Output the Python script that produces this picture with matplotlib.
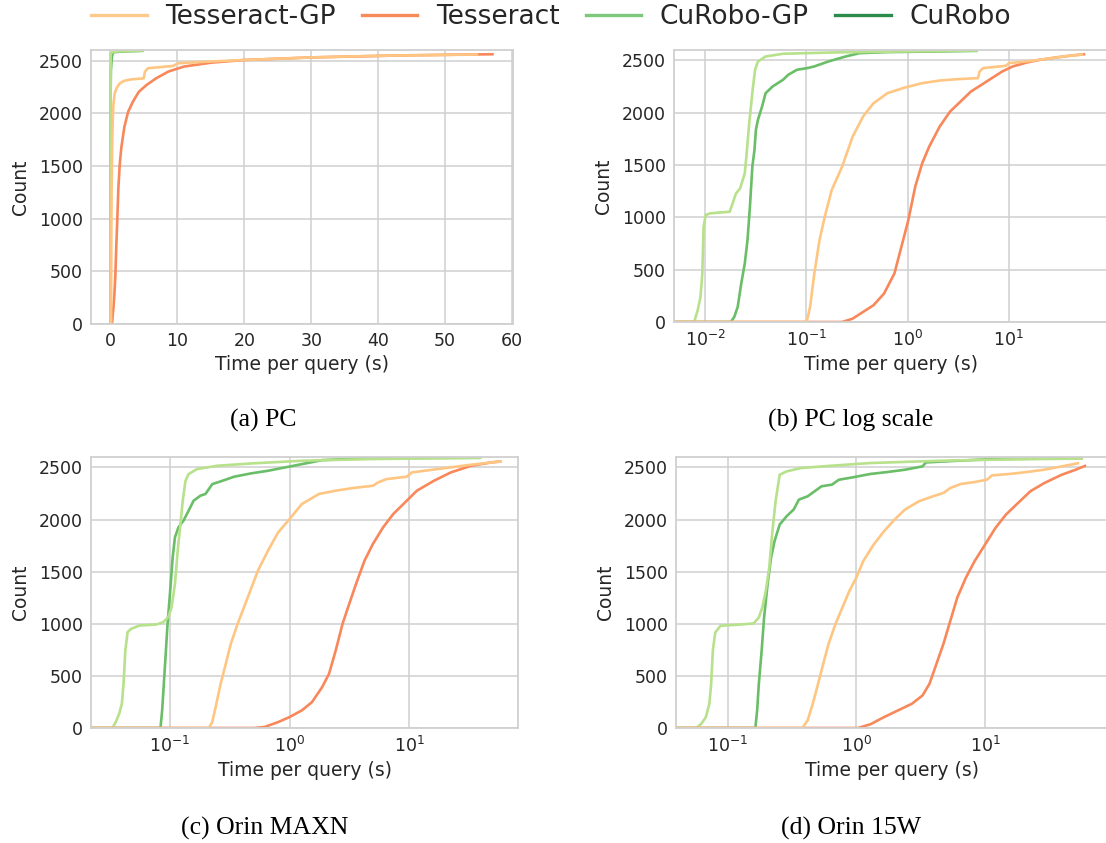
"""Cumulative query-time counts for Tesseract / CuRobo planners (4 panels)."""

import matplotlib

matplotlib.use("Agg")
import matplotlib.pyplot as plt
import numpy as np
from matplotlib.lines import Line2D

# ---- data: (log10 seconds, cumulative count) knots ----
# PC (used for both panel a and b)
pc_curobo_log10s = [-1.749, -1.714, -1.68, -1.645, -1.61, -1.583, -1.559, -1.535, -1.514, -1.5,
                    -1.48, -1.439, -1.404, -1.335, -1.232, -1.18, -1.094, -0.991, -0.922, -0.784,
                    -0.612, -0.474, -0.199, 0.317, 0.696]
pc_curobo_count = [0, 48, 144, 367, 559, 782, 1102, 1485, 1644, 1836,
                   1932, 2059, 2187, 2251, 2315, 2363, 2411, 2427, 2443, 2490,
                   2538, 2570, 2580, 2586, 2592]
pc_curobo_gp_log10s = [-2.11, -2.076, -2.048, -2.03, -2.017, -1.997, -1.955, -1.852, -1.759, -1.73,
                       -1.697, -1.656, -1.61, -1.594, -1.566, -1.532, -1.508, -1.48, -1.404, -1.232,
                       -0.716, -0.027, 0.696]
pc_curobo_gp_count = [0, 112, 240, 463, 910, 1022, 1038, 1047, 1054, 1134,
                      1229, 1277, 1421, 1580, 1900, 2219, 2411, 2490, 2538, 2564,
                      2577, 2586, 2595]
pc_tess_log10s = [-0.647, -0.543, -0.44, -0.337, -0.233, -0.13, -0.061, 0.008, 0.076, 0.145,
                  0.214, 0.318, 0.421, 0.524, 0.627, 0.731, 0.834, 0.937, 1.041, 1.178,
                  1.3, 1.48, 1.65, 1.758]
pc_tess_count = [0, 32, 96, 160, 271, 463, 718, 974, 1293, 1517,
                 1676, 1868, 2012, 2107, 2203, 2267, 2331, 2395, 2443, 2480,
                 2505, 2530, 2550, 2560]
pc_tess_gp_log10s = [-0.998, -0.964, -0.922, -0.871, -0.819, -0.75, -0.647, -0.543, -0.44, -0.337,
                     -0.199, -0.027, 0.145, 0.318, 0.49, 0.696, 0.713, 0.748, 0.972, 1.006,
                     1.178, 1.3, 1.48, 1.6, 1.74]
pc_tess_gp_count = [0, 144, 463, 782, 1006, 1261, 1485, 1772, 1964, 2091,
                    2187, 2241, 2283, 2308, 2321, 2331, 2395, 2427, 2449, 2475,
                    2491, 2505, 2530, 2545, 2557]

# Orin MAXN
maxn_curobo_log10s = [-1.079, -1.065, -1.051, -1.037, -1.02, -1.0, -0.977, -0.958, -0.929, -0.887,
                      -0.844, -0.802, -0.745, -0.703, -0.646, -0.576, -0.463, -0.321, -0.18, -0.038,
                      0.132, 0.273, 0.669, 1.603]
maxn_curobo_count = [0, 169, 425, 680, 999, 1287, 1638, 1830, 1925, 1989,
                     2085, 2181, 2229, 2245, 2340, 2366, 2411, 2443, 2468, 2500,
                     2538, 2570, 2590, 2593]
maxn_curobo_gp_log10s = [-1.481, -1.453, -1.424, -1.402, -1.388, -1.373, -1.354, -1.325, -1.255, -1.113,
                         -1.057, -1.014, -0.986, -0.958, -0.935, -0.915, -0.893, -0.87, -0.844, -0.774,
                         -0.604, -0.321, 0.103, 0.669, 1.603]
maxn_curobo_gp_count = [0, 57, 137, 233, 425, 744, 920, 951, 983, 993,
                        1015, 1063, 1159, 1383, 1702, 1925, 2181, 2372, 2436, 2484,
                        2516, 2538, 2564, 2580, 2592]
maxn_tess_log10s = [-0.293, -0.208, -0.095, 0.0, 0.103, 0.188, 0.273, 0.33, 0.386, 0.443,
                    0.499, 0.556, 0.627, 0.697, 0.782, 0.867, 0.952, 1.065, 1.207, 1.348,
                    1.518, 1.687, 1.772]
maxn_tess_count = [0, 10, 57, 105, 169, 249, 393, 520, 744, 999,
                   1191, 1383, 1606, 1766, 1925, 2053, 2149, 2277, 2372, 2452,
                   2516, 2548, 2558]
maxn_tess_gp_log10s = [-0.675, -0.646, -0.618, -0.576, -0.533, -0.491, -0.434, -0.349, -0.264, -0.18,
                       -0.095, 0.0, 0.103, 0.245, 0.386, 0.528, 0.697, 0.74, 0.81, 0.98,
                       1.023, 1.235, 1.518, 1.772]
maxn_tess_gp_count = [0, 57, 201, 425, 616, 808, 999, 1255, 1510, 1702,
                      1877, 2005, 2149, 2245, 2277, 2302, 2324, 2356, 2388, 2411,
                      2452, 2484, 2526, 2558]

# Orin 15W
w15_curobo_log10s = [-0.784, -0.77, -0.757, -0.735, -0.716, -0.689, -0.662, -0.635, -0.595, -0.541,
                     -0.486, -0.446, -0.378, -0.324, -0.27, -0.189, -0.135, -0.027, 0.108, 0.243,
                     0.378, 0.514, 0.541, 0.784, 1.054, 1.757]
w15_curobo_count = [0, 169, 424, 742, 1061, 1379, 1634, 1793, 1952, 2032,
                    2096, 2191, 2223, 2271, 2319, 2335, 2382, 2405, 2437, 2456,
                    2478, 2510, 2548, 2564, 2580, 2588]
w15_curobo_gp_log10s = [-1.243, -1.203, -1.168, -1.141, -1.127, -1.114, -1.095, -1.054, -0.919, -0.797,
                        -0.757, -0.73, -0.703, -0.676, -0.654, -0.627, -0.595, -0.541, -0.432, -0.162,
                        0.108, 0.649, 1.189, 1.757]
w15_curobo_gp_count = [0, 41, 105, 233, 424, 742, 917, 981, 991, 1003,
                       1061, 1156, 1315, 1538, 1857, 2175, 2430, 2462, 2494, 2519,
                       2542, 2564, 2577, 2585]
w15_tess_log10s = [0.014, 0.108, 0.216, 0.324, 0.432, 0.514, 0.568, 0.622, 0.676, 0.73,
                   0.784, 0.851, 0.919, 1.0, 1.081, 1.162, 1.243, 1.351, 1.459, 1.595,
                   1.703, 1.784]
w15_tess_count = [0, 35, 105, 169, 233, 312, 424, 615, 806, 1029,
                  1252, 1443, 1602, 1761, 1921, 2048, 2144, 2271, 2350, 2430,
                  2478, 2519]
w15_tess_gp_log10s = [-0.419, -0.378, -0.338, -0.297, -0.257, -0.216, -0.162, -0.108, -0.054, 0.0,
                      0.054, 0.135, 0.216, 0.297, 0.378, 0.486, 0.595, 0.676, 0.73, 0.811,
                      0.919, 1.014, 1.054, 1.189, 1.324, 1.459, 1.595, 1.73]
w15_tess_gp_count = [0, 73, 233, 424, 615, 806, 997, 1156, 1315, 1443,
                     1602, 1761, 1889, 2000, 2096, 2175, 2223, 2255, 2303, 2341,
                     2360, 2382, 2424, 2437, 2456, 2478, 2510, 2542]

methods = ["Tesseract-GP", "Tesseract", "CuRobo-GP", "CuRobo"]
captions = ["(a) PC", "(b) PC log scale", "(c) Orin MAXN", "(d) Orin 15W"]

LINE_COLORS = {
    "Tesseract-GP": "#fec682",
    "Tesseract": "#f8875a",
    "CuRobo-GP": "#b7e18b",
    "CuRobo": "#69be67",
}
LEGEND_COLORS = {
    "Tesseract-GP": "#fdc98c",
    "Tesseract": "#f78b59",
    "CuRobo-GP": "#7dc87c",
    "CuRobo": "#2b8b4b",
}
TEXT = "#262626"
GRID = "#d0d0d0"

pc = {
    "Tesseract-GP": (pc_tess_gp_log10s, pc_tess_gp_count),
    "Tesseract": (pc_tess_log10s, pc_tess_count),
    "CuRobo-GP": (pc_curobo_gp_log10s, pc_curobo_gp_count),
    "CuRobo": (pc_curobo_log10s, pc_curobo_count),
}
maxn = {
    "Tesseract-GP": (maxn_tess_gp_log10s, maxn_tess_gp_count),
    "Tesseract": (maxn_tess_log10s, maxn_tess_count),
    "CuRobo-GP": (maxn_curobo_gp_log10s, maxn_curobo_gp_count),
    "CuRobo": (maxn_curobo_log10s, maxn_curobo_count),
}
w15 = {
    "Tesseract-GP": (w15_tess_gp_log10s, w15_tess_gp_count),
    "Tesseract": (w15_tess_log10s, w15_tess_count),
    "CuRobo-GP": (w15_curobo_gp_log10s, w15_curobo_gp_count),
    "CuRobo": (w15_curobo_log10s, w15_curobo_count),
}

W, H = 1106, 843
fig = plt.figure(figsize=(W / 100, H / 100), dpi=100, facecolor="white")


def px_axes(left, top, right, bottom):
    return fig.add_axes([left / W, 1 - bottom / H, (right - left) / W, (bottom - top) / H])


def style_axes(ax):
    ax.set_facecolor("white")
    for sp in ax.spines.values():
        sp.set_color(GRID)
        sp.set_linewidth(1.3)
    ax.grid(True, which="major", color=GRID, linewidth=1.1)
    ax.set_axisbelow(True)
    ax.tick_params(which="both", length=0, labelsize=12.5, colors=TEXT, pad=6)
    ax.set_ylim(0, 2600)
    ax.set_yticks([0, 500, 1000, 1500, 2000, 2500])
    ax.set_xlabel("Time per query (s)", fontsize=13.5, color=TEXT, labelpad=3)
    ax.set_ylabel("Count", fontsize=13.5, color=TEXT, labelpad=6)


def draw(ax, data, log, xlim):
    if log:
        ax.set_xscale("log")
    ax.set_xlim(*xlim)
    x0 = ax.get_xlim()[0]
    for name in ["CuRobo", "CuRobo-GP", "Tesseract", "Tesseract-GP"]:
        lt, cnt = data[name]
        t = 10.0 ** np.asarray(lt)
        cnt = np.asarray(cnt)
        if log:
            t = np.r_[x0, t]
            cnt = np.r_[0, cnt]
        ax.plot(t, cnt, color=LINE_COLORS[name], lw=1.9, solid_capstyle="butt")
    style_axes(ax)


ax_a = px_axes(91, 50, 513, 324)
draw(ax_a, pc, False, (-2.9, 60.15))
ax_a.set_xticks([0, 10, 20, 30, 40, 50, 60])

ax_b = px_axes(674, 50, 1108, 322)
draw(ax_b, pc, True, (10 ** -2.31, 10 ** 1.983))

ax_c = px_axes(91, 457, 518, 728)
draw(ax_c, maxn, True, (10 ** -1.66, 10 ** 1.91))

ax_d = px_axes(676, 457, 1108, 728)
draw(ax_d, w15, True, (10 ** -1.40, 10 ** 1.954))

# captions under each subfigure
for cap, (cx, cy) in zip(captions, [(263, 420), (851, 420), (265, 828), (851, 828)]):
    fig.text(cx / W, 1 - cy / H, cap, ha="center", va="center",
             fontsize=18.5, family="Liberation Serif", color="black")

handles = [Line2D([], [], color=LEGEND_COLORS[m], lw=2.4) for m in methods]
fig.legend(handles, methods, loc="center", bbox_to_anchor=(551 / W, 1 - 17 / H), ncol=4,
           frameon=False, fontsize=19, handlelength=2.1, handletextpad=0.7,
           columnspacing=1.0, labelcolor=TEXT)

fig.savefig("out.png", dpi=100, facecolor="white")
